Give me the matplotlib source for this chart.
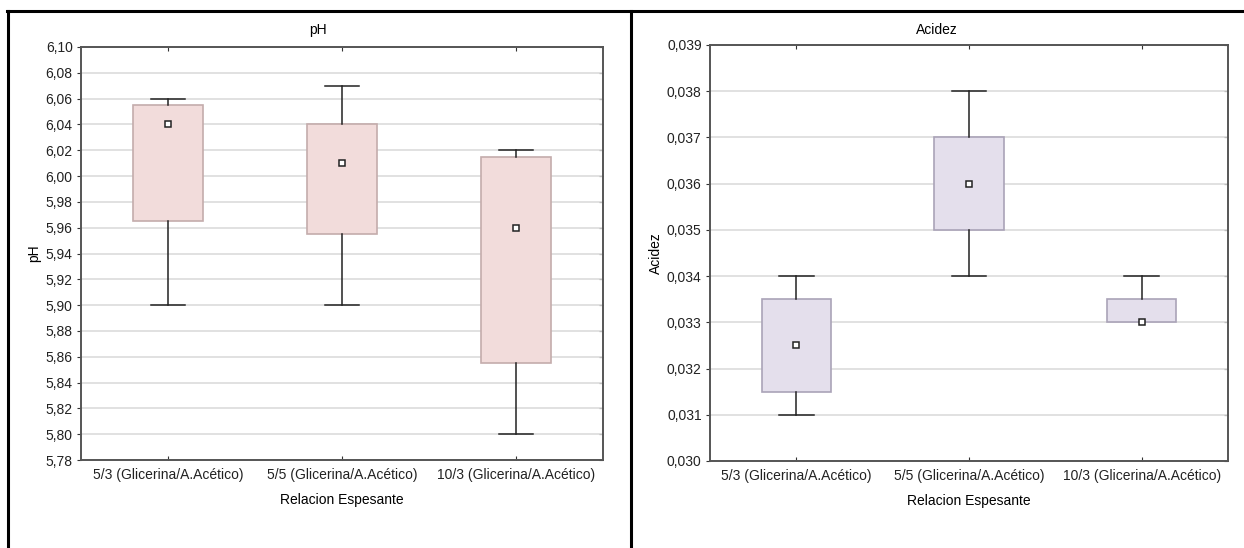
import numpy as np
import matplotlib
matplotlib.use('Agg')
import matplotlib.pyplot as plt
from matplotlib.lines import Line2D
from matplotlib.ticker import FuncFormatter, FixedLocator

plt.rcParams['font.family'] = ['Liberation Sans', 'DejaVu Sans']

categorias = ['5/3 (Glicerina/A.Acético)', '5/5 (Glicerina/A.Acético)', '10/3 (Glicerina/A.Acético)']

# pH: media, caja (inferior/superior) y bigotes (min/max)
ph_media = [6.04, 6.01, 5.96]
ph_caja_inf = [5.965, 5.955, 5.855]
ph_caja_sup = [6.055, 6.04, 6.015]
ph_bigote_inf = [5.90, 5.90, 5.80]
ph_bigote_sup = [6.06, 6.07, 6.02]
ph_ticks = np.arange(5.78, 6.1001, 0.02)

# Acidez
ac_media = [0.0325, 0.036, 0.033]
ac_caja_inf = [0.0315, 0.035, 0.033]
ac_caja_sup = [0.0335, 0.037, 0.0335]
ac_bigote_inf = [0.031, 0.034, 0.033]
ac_bigote_sup = [0.034, 0.038, 0.034]
ac_ticks = np.arange(0.030, 0.0391, 0.001)

W, H = 1244, 548
fig = plt.figure(figsize=(W / 100, H / 100), dpi=100)


def caja(ax, media, inf, sup, blo, bhi, ticks, fmt, color, borde, titulo):
    stats = []
    for i in range(len(media)):
        stats.append(dict(med=media[i], mean=media[i], q1=inf[i], q3=sup[i],
                          whislo=blo[i], whishi=bhi[i], fliers=[]))
    pos = [0.5, 1.5, 2.5]
    res = ax.bxp(stats, positions=pos, widths=0.4, patch_artist=True,
                 showmeans=True, showfliers=False,
                 boxprops=dict(facecolor=color, edgecolor=borde, linewidth=1.2),
                 whiskerprops=dict(color='#222222', linewidth=1.1),
                 capprops=dict(color='#222222', linewidth=1.1),
                 medianprops=dict(linewidth=0),
                 meanprops=dict(marker='s', markerfacecolor='white',
                                markeredgecolor='#222222', markersize=5,
                                markeredgewidth=1.1),
                 capwidths=0.2, zorder=3)
    # sin bigote cuando coincide con la caja
    for i in range(len(media)):
        if blo[i] == inf[i]:
            res['caps'][2 * i].set_visible(False)
        if bhi[i] == sup[i]:
            res['caps'][2 * i + 1].set_visible(False)
    ax.set_xlim(0, 3)
    ax.set_ylim(ticks[0], ticks[-1])
    ax.yaxis.set_major_locator(FixedLocator(ticks))
    ax.yaxis.set_major_formatter(FuncFormatter(lambda v, p: (fmt % v).replace('.', ',')))
    ax.set_xticks(pos)
    ax.set_xticklabels(categorias)
    ax.grid(axis='y', color='#dcdcdc', linewidth=1.2, zorder=0)
    ax.set_axisbelow(True)
    for s in ax.spines.values():
        s.set_color('#555555')
        s.set_linewidth(1.4)
    ax.tick_params(axis='y', left=True, right=False, direction='out',
                   length=3, color='#333333', labelsize=10, pad=3)
    ax.tick_params(axis='x', top=True, bottom=True, direction='in', length=3,
                   color='#333333', labelsize=10, pad=6)
    # marcas cortas hacia dentro en el eje derecho
    der = ax.secondary_yaxis('right')
    der.yaxis.set_major_locator(FixedLocator(ticks))
    der.tick_params(direction='in', length=3, color='#333333', labelright=False)
    der.spines['right'].set_visible(False)
    ax.set_xlabel('Relacion Espesante', fontsize=10, labelpad=8)
    ax.set_ylabel(titulo, fontsize=10, labelpad=3)
    for lbl in ax.get_yticklabels() + ax.get_xticklabels():
        lbl.set_color('#222222')


ax1 = fig.add_axes([81 / W, (H - 460) / H, 522 / W, 413 / H])
caja(ax1, ph_media, ph_caja_inf, ph_caja_sup, ph_bigote_inf, ph_bigote_sup,
     ph_ticks, '%.2f', '#f2dcdb', '#c4acac', 'pH')

ax2 = fig.add_axes([710 / W, (H - 461) / H, 518 / W, 416 / H])
caja(ax2, ac_media, ac_caja_inf, ac_caja_sup, ac_bigote_inf, ac_bigote_sup,
     ac_ticks, '%.3f', '#e4dfec', '#aaa3b8', 'Acidez')

fig.text(318 / W, 1 - 30 / H, 'pH', ha='center', va='center', fontsize=10)
fig.text(937 / W, 1 - 30 / H, 'Acidez', ha='center', va='center', fontsize=10)

# marco negro de los paneles
fig.add_artist(Line2D([7 / W, 1], [1 - 11 / H, 1 - 11 / H], color='black', linewidth=2.2))
fig.add_artist(Line2D([8 / W, 8 / W], [0, 1 - 11 / H], color='black', linewidth=2.2))
fig.add_artist(Line2D([631 / W, 631 / W], [0, 1 - 11 / H], color='black', linewidth=2.2))

fig.savefig('out.png', dpi=100)
